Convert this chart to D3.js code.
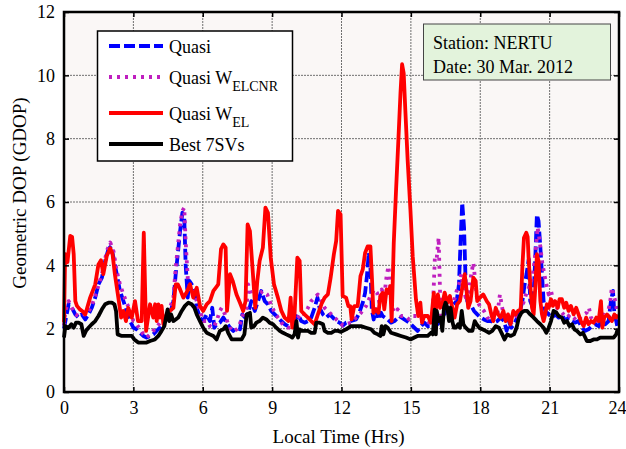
<!DOCTYPE html>
<html>
<head>
<meta charset="utf-8">
<script src="https://cdn.jsdelivr.net/npm/d3@7"></script>
<style>
  html, body { margin: 0; padding: 0; background: #fff; }
  svg { display: block; font-family: "Liberation Serif", "Times New Roman", serif; }
</style>
</head>
<body>
<svg id="svg" width="626" height="449"></svg>
<script>
// tick labels
const xTicks = [0, 3, 6, 9, 12, 15, 18, 21, 24];
const yTicks = [0, 2, 4, 6, 8, 10, 12];

// series: [local time (hrs), GDOP]
const quasi = [[0,2.0],[0.06,2.24],[0.2,2.77],[0.34,2.66],[0.49,2.45],[0.63,2.35],[0.77,2.45],[0.92,2.29],[1.06,2.45],[1.2,2.66],[1.35,2.98],[1.49,3.4],[1.64,3.61],[1.78,4.14],[1.92,4.51],[2.04,4.61],[2.14,4.24],[2.28,3.72],[2.42,3.19],[2.57,2.87],[2.71,2.56],[2.86,2.24],[3.0,2.03],[3.14,1.98],[3.29,1.87],[3.43,1.77],[3.57,1.72],[3.72,1.77],[3.86,1.82],[4.0,1.93],[4.15,2.03],[4.37,2.24],[4.58,2.45],[4.73,2.87],[4.83,3.72],[4.92,4.35],[5.02,5.08],[5.12,5.66],[5.2,5.51],[5.26,4.03],[5.35,2.98],[5.42,3.51],[5.52,3.4],[5.64,3.19],[5.74,2.66],[5.88,2.35],[6.02,2.24],[6.17,2.45],[6.31,2.24],[6.41,2.66],[6.5,2.03],[6.6,2.14],[6.74,2.19],[6.89,2.35],[7.03,2.19],[7.18,2.03],[7.32,1.93],[7.46,2.03],[7.61,1.98],[7.71,2.45],[7.83,2.35],[7.97,2.5],[8.1,2.87],[8.25,2.56],[8.39,2.87],[8.53,3.19],[8.68,2.87],[8.82,2.77],[8.96,2.56],[9.11,2.45],[9.25,2.35],[9.4,2.24],[9.54,2.14],[9.69,2.08],[9.83,2.14],[9.97,2.24],[10.12,2.45],[10.26,2.24],[10.4,2.19],[10.55,2.24],[10.69,2.35],[10.84,2.66],[10.96,2.98],[11.05,2.66],[11.2,2.45],[11.34,2.35],[11.49,2.45],[11.63,2.35],[11.77,2.24],[11.92,2.19],[12.06,2.1],[12.2,2.19],[12.41,2.24],[12.63,2.29],[12.77,2.5],[12.92,2.82],[13.02,3.13],[13.1,3.66],[13.18,4.4],[13.25,3.97],[13.31,2.61],[13.39,2.29],[13.49,2.61],[13.6,2.29],[13.71,2.5],[13.78,2.4],[13.88,2.35],[14.0,2.29],[14.14,2.19],[14.29,2.24],[14.5,2.4],[14.72,2.29],[14.93,2.19],[15.15,2.03],[15.29,1.93],[15.44,2.08],[15.58,2.19],[15.73,2.08],[15.87,2.08],[16.01,2.1],[16.14,2.14],[16.29,2.24],[16.43,2.45],[16.58,2.56],[16.72,2.66],[16.86,2.77],[16.98,2.87],[17.08,3.4],[17.15,4.77],[17.22,5.98],[17.3,5.19],[17.37,3.4],[17.44,2.87],[17.58,2.77],[17.73,2.56],[17.87,2.45],[18.02,2.35],[18.16,2.29],[18.31,2.24],[18.45,2.24],[18.59,2.19],[18.74,2.24],[18.88,2.35],[19.03,2.24],[19.14,1.93],[19.24,2.24],[19.34,2.03],[19.46,2.14],[19.6,2.35],[19.72,2.56],[19.82,2.87],[19.92,3.4],[20.0,3.72],[20.1,4.2],[20.16,2.87],[20.28,2.66],[20.38,4.24],[20.45,5.6],[20.52,5.4],[20.6,4.56],[20.67,3.72],[20.74,2.87],[20.81,2.56],[20.96,2.45],[21.1,2.35],[21.24,2.45],[21.39,2.35],[21.53,2.45],[21.68,2.24],[21.82,2.35],[21.97,2.24],[22.11,2.19],[22.25,2.24],[22.4,2.03],[22.54,1.93],[22.68,1.98],[22.83,2.08],[22.97,2.14],[23.12,2.08],[23.26,2.24],[23.41,2.14],[23.55,2.24],[23.65,2.87],[23.74,3.19],[23.8,2.45],[23.88,2.24],[23.94,2.03]];

const quasiWelcnr = [[0,2.1],[0.06,2.56],[0.2,2.87],[0.34,2.66],[0.49,2.45],[0.63,2.4],[0.77,2.45],[0.99,2.45],[1.2,2.72],[1.42,3.19],[1.64,3.72],[1.85,4.45],[2.0,4.72],[2.14,4.45],[2.28,3.82],[2.42,3.4],[2.57,3.08],[2.71,2.82],[2.86,2.56],[3.0,2.24],[3.14,2.14],[3.29,1.98],[3.43,1.82],[3.57,1.72],[3.72,1.82],[3.86,1.93],[4.0,2.03],[4.15,2.19],[4.37,2.35],[4.58,2.66],[4.73,2.98],[4.83,3.93],[4.92,4.56],[5.02,5.29],[5.12,5.72],[5.2,5.82],[5.26,4.77],[5.35,3.61],[5.45,3.29],[5.59,3.19],[5.74,2.87],[5.88,2.56],[6.02,2.24],[6.17,2.24],[6.31,2.08],[6.46,2.03],[6.6,2.24],[6.74,2.56],[6.82,2.66],[6.96,2.45],[7.1,2.14],[7.25,1.93],[7.39,1.93],[7.54,2.03],[7.65,2.24],[7.75,2.45],[7.9,2.66],[7.96,3.4],[8.1,3.08],[8.25,2.98],[8.39,3.08],[8.6,3.19],[8.79,3.08],[8.94,2.77],[9.08,2.56],[9.25,2.35],[9.4,2.19],[9.54,2.08],[9.69,2.03],[9.83,2.03],[9.97,2.24],[10.12,2.35],[10.26,2.5],[10.4,2.45],[10.55,2.66],[10.69,2.87],[10.84,2.98],[10.98,3.08],[11.13,2.87],[11.27,2.66],[11.41,2.56],[11.56,2.45],[11.7,2.35],[11.85,2.24],[12.06,2.1],[12.2,2.14],[12.41,2.19],[12.63,2.35],[12.84,2.5],[13.06,2.71],[13.25,3.03],[13.42,3.24],[13.54,3.13],[13.64,2.82],[13.74,3.24],[13.85,3.03],[13.95,3.66],[14.03,3.97],[14.1,3.45],[14.17,2.71],[14.29,2.5],[14.43,2.61],[14.57,2.4],[14.72,2.4],[14.93,2.29],[15.08,2.4],[15.22,2.4],[15.37,2.4],[15.51,2.29],[15.65,2.24],[15.8,2.19],[15.94,2.4],[16.04,4.29],[16.12,4.24],[16.2,4.87],[16.26,3.19],[16.32,2.24],[16.43,2.35],[16.58,2.45],[16.72,2.66],[16.86,2.87],[16.98,3.19],[17.08,3.4],[17.18,3.72],[17.27,3.29],[17.37,2.98],[17.51,3.19],[17.61,3.72],[17.7,4.08],[17.77,3.61],[17.87,2.87],[18.02,2.66],[18.16,2.56],[18.31,2.35],[18.45,2.24],[18.59,2.35],[18.74,2.45],[18.85,3.08],[18.95,2.66],[19.05,2.24],[19.17,2.35],[19.31,2.19],[19.46,2.24],[19.6,2.45],[19.75,2.56],[19.89,2.87],[20.03,3.19],[20.16,3.4],[20.28,3.72],[20.38,4.35],[20.48,5.2],[20.57,4.77],[20.67,4.14],[20.77,3.72],[20.86,3.4],[20.96,3.08],[21.06,3.19],[21.17,2.87],[21.32,2.66],[21.46,2.56],[21.6,2.45],[21.75,2.35],[21.89,2.45],[22.04,2.35],[22.18,2.24],[22.33,2.35],[22.47,2.45],[22.61,2.51],[22.7,2.66],[22.79,2.35],[22.9,2.24],[23.05,2.24],[23.19,2.35],[23.33,2.45],[23.48,2.35],[23.62,2.87],[23.69,3.29],[23.77,3.08],[23.84,2.87],[23.94,2.45]];

const quasiWel = [[0,2.2],[0.05,4.35],[0.15,4.1],[0.27,4.93],[0.35,4.9],[0.42,4.35],[0.49,2.87],[0.56,2.72],[0.7,2.6],[0.8,2.55],[0.92,2.45],[1.13,2.98],[1.35,3.4],[1.49,4.03],[1.6,4.16],[1.7,3.72],[1.85,4.3],[2.0,4.54],[2.1,4.35],[2.2,3.72],[2.35,2.98],[2.47,2.35],[2.57,2.56],[2.68,2.24],[2.78,2.66],[2.93,2.35],[3.07,2.87],[3.2,2.24],[3.36,2.24],[3.45,5.03],[3.55,1.93],[3.72,2.77],[3.86,2.35],[3.94,2.77],[4.01,2.24],[4.08,2.77],[4.15,2.35],[4.22,2.72],[4.3,2.14],[4.44,2.45],[4.58,2.56],[4.73,2.66],[4.83,3.4],[4.92,3.4],[5.02,3.24],[5.16,2.98],[5.3,3.14],[5.45,3.4],[5.59,2.98],[5.74,3.29],[5.88,2.72],[6.02,2.56],[6.17,2.77],[6.31,2.87],[6.46,3.19],[6.56,3.29],[6.67,3.4],[6.79,4.51],[6.89,4.66],[6.99,4.56],[7.05,2.56],[7.18,3.72],[7.3,3.5],[7.46,3.08],[7.61,2.82],[7.75,2.56],[7.85,2.87],[7.94,5.29],[8.04,5.08],[8.17,3.72],[8.27,2.66],[8.36,3.51],[8.46,4.14],[8.6,4.56],[8.71,5.82],[8.82,5.66],[8.94,4.24],[9.08,3.4],[9.25,2.98],[9.4,2.56],[9.54,2.35],[9.71,2.24],[9.8,2.98],[9.87,2.03],[9.97,2.45],[10.09,4.24],[10.19,4.14],[10.26,2.56],[10.4,2.45],[10.55,2.35],[10.69,2.24],[10.84,2.14],[10.98,2.45],[11.13,2.77],[11.27,2.98],[11.41,3.08],[11.53,3.61],[11.67,4.35],[11.77,4.77],[11.85,5.72],[11.96,5.61],[12.05,3.03],[12.2,2.98],[12.3,2.71],[12.38,2.71],[12.44,2.29],[12.55,2.71],[12.7,2.71],[12.82,3.66],[12.92,3.87],[13.02,4.39],[13.13,4.6],[13.25,4.6],[13.32,3.55],[13.38,2.5],[13.49,2.61],[13.6,2.5],[13.68,3.03],[13.78,3.13],[13.85,2.61],[13.95,3.24],[14.04,3.13],[14.11,3.34],[14.17,2.24],[14.26,4.71],[14.36,6.39],[14.46,7.96],[14.55,9.43],[14.62,10.35],[14.69,10.06],[14.76,8.9],[14.86,7.33],[14.98,5.76],[15.08,4.29],[15.22,2.92],[15.32,2.4],[15.41,2.82],[15.48,2.19],[15.58,2.4],[15.73,2.4],[15.87,2.19],[15.99,3.13],[16.05,2.45],[16.17,3.08],[16.26,2.66],[16.36,2.77],[16.46,3.14],[16.58,2.82],[16.69,3.03],[16.79,2.66],[16.89,2.35],[17.0,2.77],[17.12,2.87],[17.22,3.29],[17.33,3.72],[17.41,3.19],[17.48,2.66],[17.58,2.87],[17.7,3.61],[17.8,3.51],[17.87,2.87],[17.99,2.98],[18.13,3.08],[18.28,2.87],[18.38,2.77],[18.48,2.45],[18.56,2.24],[18.67,2.66],[18.77,2.45],[18.88,2.35],[19.0,2.56],[19.1,2.24],[19.2,2.45],[19.31,2.14],[19.43,2.56],[19.53,2.45],[19.63,2.56],[19.75,2.61],[19.82,3.93],[19.89,4.87],[19.99,5.03],[20.05,4.9],[20.09,4.24],[20.16,3.4],[20.24,2.66],[20.31,2.45],[20.38,3.29],[20.45,4.35],[20.52,4.14],[20.6,2.87],[20.67,2.45],[20.74,2.24],[20.81,2.45],[20.88,2.77],[20.96,2.66],[21.06,2.93],[21.14,2.72],[21.24,2.87],[21.35,2.66],[21.43,2.93],[21.53,2.93],[21.63,2.66],[21.72,2.82],[21.82,2.56],[21.92,2.72],[22.04,2.45],[22.15,2.66],[22.25,2.45],[22.35,2.24],[22.47,2.08],[22.58,2.35],[22.68,2.14],[22.79,2.24],[22.9,2.19],[23.02,2.35],[23.12,2.24],[23.22,2.87],[23.28,2.03],[23.36,2.35],[23.48,2.45],[23.59,2.35],[23.69,2.24],[23.8,2.45],[23.88,2.35],[23.94,2.45]];

const best7 = [[0,1.72],[0.06,2.08],[0.2,2.03],[0.32,2.14],[0.42,2.03],[0.52,2.19],[0.63,2.19],[0.75,2.14],[0.85,1.77],[0.95,1.93],[1.06,2.03],[1.2,2.14],[1.35,2.24],[1.49,2.4],[1.64,2.61],[1.78,2.77],[1.92,2.82],[2.07,2.82],[2.18,2.77],[2.25,2.56],[2.32,1.82],[2.5,1.77],[2.71,1.77],[2.93,1.77],[3.04,1.66],[3.21,1.56],[3.43,1.56],[3.57,1.56],[3.72,1.61],[3.93,1.66],[4.08,1.77],[4.22,1.93],[4.34,2.08],[4.41,2.35],[4.48,2.61],[4.55,2.24],[4.63,2.45],[4.73,2.24],[4.83,2.29],[4.94,2.35],[5.09,2.56],[5.23,2.72],[5.38,2.82],[5.52,2.77],[5.64,2.66],[5.74,2.45],[5.88,2.24],[6.02,2.03],[6.17,1.87],[6.31,1.82],[6.46,1.77],[6.6,1.66],[6.74,1.93],[6.89,1.98],[6.99,2.08],[7.1,1.87],[7.25,1.66],[7.46,1.66],[7.68,1.66],[7.8,1.82],[7.9,2.45],[8.04,2.5],[8.1,2.03],[8.22,2.08],[8.32,2.19],[8.46,2.24],[8.6,2.35],[8.75,2.29],[8.89,2.19],[9.04,2.14],[9.18,2.03],[9.33,1.93],[9.47,1.87],[9.61,1.82],[9.76,1.77],[9.87,1.72],[9.97,1.82],[10.05,2.24],[10.12,1.72],[10.19,1.98],[10.26,1.93],[10.4,1.93],[10.55,1.93],[10.69,1.87],[10.84,1.87],[10.91,2.19],[11.05,2.19],[11.2,2.14],[11.27,1.93],[11.41,1.87],[11.56,1.87],[11.7,1.93],[11.85,1.93],[11.98,1.9],[12.2,1.98],[12.41,2.08],[12.63,2.08],[12.84,2.08],[13.06,2.03],[13.28,1.98],[13.42,1.87],[13.57,1.82],[13.68,1.77],[13.74,2.08],[13.81,1.82],[13.9,2.08],[14.0,2.03],[14.14,1.87],[14.36,1.82],[14.57,1.77],[14.79,1.72],[15.0,1.66],[15.15,1.72],[15.29,1.77],[15.51,1.77],[15.73,1.77],[15.87,1.87],[15.95,1.82],[16.03,2.6],[16.08,1.82],[16.12,2.56],[16.19,2.24],[16.29,2.35],[16.36,1.93],[16.43,2.66],[16.5,2.82],[16.58,2.66],[16.65,2.24],[16.72,2.66],[16.79,2.24],[16.86,2.03],[16.94,2.03],[17.04,2.14],[17.12,2.03],[17.2,2.56],[17.27,2.14],[17.37,2.03],[17.51,1.93],[17.66,1.93],[17.76,2.24],[17.84,2.14],[17.95,2.03],[18.09,1.98],[18.23,1.93],[18.38,1.87],[18.52,1.93],[18.67,2.08],[18.81,2.03],[18.95,1.82],[19.05,1.66],[19.17,1.82],[19.31,1.77],[19.46,1.82],[19.57,2.03],[19.67,2.35],[19.78,2.5],[19.89,2.56],[20.03,2.56],[20.16,2.45],[20.31,2.35],[20.45,2.24],[20.6,2.14],[20.74,2.03],[20.86,1.87],[20.96,2.03],[21.06,2.24],[21.17,2.56],[21.29,2.51],[21.39,2.4],[21.53,2.35],[21.63,2.19],[21.75,2.24],[21.86,2.08],[21.97,2.14],[22.07,1.98],[22.18,1.93],[22.33,1.82],[22.44,1.87],[22.54,1.72],[22.61,1.61],[22.76,1.61],[22.9,1.66],[23.05,1.66],[23.19,1.72],[23.33,1.72],[23.48,1.72],[23.62,1.72],[23.77,1.72],[23.88,1.82],[23.94,1.98]];

const pL = 64, pR = 619, pT = 12, pB = 392;
const x = d3.scaleLinear().domain([0, 24]).range([pL, pR]);
const y = d3.scaleLinear().domain([0, 12]).range([pB, pT]);

const svg = d3.select("#svg");

// plot background
svg.append("rect")
  .attr("x", pL).attr("y", pT)
  .attr("width", pR - pL).attr("height", pB - pT)
  .attr("fill", "#faf7f6");

// grid
const grid = svg.append("g");
xTicks.slice(1, -1).forEach(t => {
  grid.append("line")
    .attr("x1", x(t)).attr("x2", x(t))
    .attr("y1", pT).attr("y2", pB)
    .attr("stroke", "#6f6f6f").attr("stroke-width", 1)
    .attr("stroke-dasharray", "2,1");
});
yTicks.slice(1, -1).forEach(v => {
  grid.append("line")
    .attr("x1", pL).attr("x2", pR)
    .attr("y1", y(v)).attr("y2", y(v))
    .attr("stroke", "#6f6f6f").attr("stroke-width", 1)
    .attr("stroke-dasharray", "2,1");
});

// series
const line = d3.line().x(d => x(d[0])).y(d => y(d[1]));
const series = [
  { data: quasi, color: "#0000ff", dash: "11,4" },
  { data: quasiWelcnr, color: "#bf1fbf", dash: "3,5" },
  { data: quasiWel, color: "#ff0000", dash: null },
  { data: best7, color: "#000000", dash: null }
];
const plot = svg.append("g");
series.forEach(s => {
  plot.append("path")
    .attr("d", line(s.data))
    .attr("fill", "none")
    .attr("stroke", s.color)
    .attr("stroke-width", 3.8)
    .attr("stroke-linejoin", "round")
    .attr("stroke-dasharray", s.dash);
});

// axes (ticks inside, on all four sides)
const tickLen = 5;
const axisFont = 18;
svg.append("g")
  .attr("transform", `translate(0,${pB})`)
  .call(d3.axisBottom(x).tickValues(xTicks).tickSizeInner(-tickLen).tickSizeOuter(0).tickPadding(9))
  .call(g => g.select(".domain").remove())
  .call(g => g.selectAll("line").attr("stroke-width", 1.5))
  .call(g => g.selectAll("text").attr("font-size", axisFont).attr("font-family", "Liberation Serif").attr("fill", "#000"))
  .call(g => g.selectAll("text").filter(d => d === 24).attr("dx", -2));
svg.append("g")
  .attr("transform", `translate(0,${pT})`)
  .call(d3.axisTop(x).tickValues(xTicks).tickSizeInner(-tickLen).tickSizeOuter(0).tickFormat(""))
  .call(g => g.select(".domain").remove())
  .call(g => g.selectAll("line").attr("stroke-width", 1.5));
svg.append("g")
  .attr("transform", `translate(${pL},0)`)
  .call(d3.axisLeft(y).tickValues(yTicks).tickSizeInner(-tickLen).tickSizeOuter(0).tickPadding(9))
  .call(g => g.select(".domain").remove())
  .call(g => g.selectAll("line").attr("stroke-width", 1.5))
  .call(g => g.selectAll("text").attr("font-size", axisFont).attr("font-family", "Liberation Serif").attr("fill", "#000"));
svg.append("g")
  .attr("transform", `translate(${pR},0)`)
  .call(d3.axisRight(y).tickValues(yTicks).tickSizeInner(-tickLen).tickSizeOuter(0).tickFormat(""))
  .call(g => g.select(".domain").remove())
  .call(g => g.selectAll("line").attr("stroke-width", 1.5));

// frame
svg.append("rect")
  .attr("x", pL).attr("y", pT)
  .attr("width", pR - pL).attr("height", pB - pT)
  .attr("fill", "none").attr("stroke", "#000").attr("stroke-width", 2.5);

// axis titles
svg.append("text")
  .attr("x", (pL + pR) / 2 - 3).attr("y", 443)
  .attr("text-anchor", "middle").attr("font-size", 19)
  .text("Local Time (Hrs)");
svg.append("text")
  .attr("transform", `translate(26,${(pT + pB) / 2 - 9}) rotate(-90)`)
  .attr("text-anchor", "middle").attr("font-size", 19)
  .text("Geometric DOP (GDOP)");

// legend
const legend = svg.append("g");
legend.append("rect")
  .attr("x", 97.5).attr("y", 31)
  .attr("width", 195).attr("height", 130)
  .attr("fill", "#fff").attr("stroke", "#000").attr("stroke-width", 1.5);
const legendRows = [
  { y: 46, color: "#0000ff", dash: "11,4", label: "Quasi", sub: "" },
  { y: 77, color: "#bf1fbf", dash: "3,5", label: "Quasi W", sub: "ELCNR" },
  { y: 113, color: "#ff0000", dash: null, label: "Quasi W", sub: "EL" },
  { y: 144, color: "#000000", dash: null, label: "Best 7SVs", sub: "" }
];
legendRows.forEach(r => {
  legend.append("line")
    .attr("x1", 109).attr("x2", 163)
    .attr("y1", r.y).attr("y2", r.y)
    .attr("stroke", r.color).attr("stroke-width", 3.8)
    .attr("stroke-dasharray", r.dash);
  const t = legend.append("text")
    .attr("x", 169).attr("y", r.y + 7)
    .attr("font-size", 18);
  t.append("tspan").text(r.label);
  if (r.sub) {
    t.append("tspan").attr("dy", 7).attr("font-size", 14).text(r.sub);
  }
});

// station box
const info = svg.append("g");
info.append("rect")
  .attr("x", 423.5).attr("y", 24)
  .attr("width", 187).attr("height", 56)
  .attr("fill", "#e3f3dc").attr("stroke", "#444").attr("stroke-width", 1);
info.append("text").attr("x", 433).attr("y", 49).attr("font-size", 18).text("Station: NERTU");
info.append("text").attr("x", 433).attr("y", 73).attr("font-size", 18).text("Date: 30 Mar. 2012");
</script>
</body>
</html>
